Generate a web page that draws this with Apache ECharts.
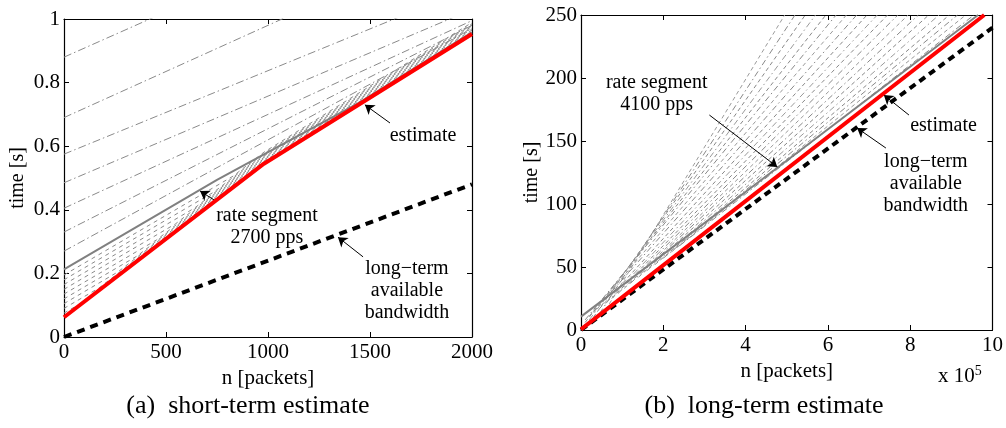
<!DOCTYPE html>
<html><head><meta charset="utf-8">
<script src="https://cdn.jsdelivr.net/npm/echarts@6/dist/echarts.min.js"></script>
<style>html,body{margin:0;padding:0;background:#fff}#c{width:1006px;height:428px}</style>
</head><body><div id="c"></div>
<script>
// ---------- (a) short-term estimate ----------
const leftXTicks = [0, 500, 1000, 1500, 2000];
const leftYTicks = [0, 0.2, 0.4, 0.6, 0.8, 1];
const leftRed = [[0, 0.062], [980, 0.545], [2000, 0.953]];
const leftGrey = [[0, 0.213], [750, 0.494], [1450, 0.738], [2000, 0.958]];
const leftBandwidth = [[0, 0], [2000, 0.48]];
const leftDashDotStart = [0.88, 0.69, 0.575, 0.485, 0.405, 0.33, 0.27];
const leftDashDotEnd = [1.45, 1.27, 1.1, 1.03, 0.995, 0.98, 0.97];
const leftDashed = [
  [[0, 0.075], [77, 0.104], [980, 0.549], [2000, 0.957]],
  [[0, 0.09], [171, 0.154], [980, 0.553], [2000, 0.961]],
  [[0, 0.105], [265, 0.205], [980, 0.557], [2000, 0.965]],
  [[0, 0.12], [359, 0.255], [980, 0.561], [2000, 0.969]],
  [[0, 0.135], [453, 0.305], [980, 0.565], [2000, 0.973]],
  [[0, 0.15], [547, 0.356], [980, 0.569], [2000, 0.977]],
  [[0, 0.165], [641, 0.406], [980, 0.573], [2000, 0.981]],
  [[0, 0.18], [735, 0.456], [980, 0.577], [2000, 0.985]],
  [[0, 0.195], [829, 0.506], [980, 0.581], [2000, 0.989]]
];
const leftNotes = ['estimate', 'rate segment\n2700 pps', 'long\u2212term\navailable\nbandwidth'];
const leftNotePos = [[1760, 0.632], [995, 0.347], [1681, 0.145]];
const leftArrows = [[1598, 0.673, 1475, 0.73], [750, 0.425, 667, 0.459], [1466, 0.252, 1343, 0.314]];

// ---------- (b) long-term estimate (x in units of 10^5 packets) ----------
const rightXTicks = [0, 2, 4, 6, 8, 10];
const rightYTicks = [0, 50, 100, 150, 200, 250];
const rightRed = [[0, 0.5], [9.8, 250]];
const rightGrey = [[0, 10.6], [4.7, 127], [9.65, 250]];
const rightBandwidth = [[0, 0], [10, 240]];
const fanStartX = [0.6, 0.45, 0.3, 0.2, 0.1, 0.1, 0.2, 0.3, 0.45, 0.6, 0.75, 0.9, 1.05, 1.2, 1.4, 1.6, 1.8, 2.0, 2.2, 2.4];
const fanStartY = [16, 13, 10, 8, 6, 8, 11, 14, 17, 21, 25, 29, 33, 37, 42, 47, 52, 57, 62, 67];
const fanEndX = [4.95, 5.2, 5.45, 5.7, 5.95, 6.2, 6.45, 6.7, 6.95, 7.2, 7.45, 7.7, 7.95, 8.2, 8.45, 8.7, 8.95, 9.15, 9.35, 9.55];
const fanEndY = 250;
const rightNotes = ['rate segment\n4100 pps', 'estimate', 'long\u2212term\navailable\nbandwidth'];
const rightNotePos = [[1.84, 187.7], [8.81, 161.9], [8.38, 116.3]];
const rightArrows = [[3.12, 170.6, 4.77, 129.4], [7.97, 170.6, 7.36, 186.5], [7.41, 144.4, 6.71, 160.3]];

const FONT = 'Liberation Serif';

function xAx(grid, ticks, pos, showLabel, name) {
  return {
    type: 'value', gridIndex: grid, position: pos,
    min: ticks[0], max: ticks[ticks.length - 1], interval: ticks[1] - ticks[0],
    axisLine: { show: true, onZero: false, lineStyle: { color: '#000', width: 1.2 } },
    axisTick: { show: true, inside: true, length: 5, lineStyle: { color: '#000' } },
    axisLabel: { show: showLabel, color: '#000', fontFamily: FONT, fontSize: 21, margin: 5,
                 formatter: v => String(v) },
    splitLine: { show: false },
    name: name || '', nameLocation: 'middle', nameGap: 21,
    nameTextStyle: { color: '#000', fontFamily: FONT, fontSize: 21 }
  };
}
function yAx(grid, ticks, pos, showLabel, name, gap) {
  return {
    type: 'value', gridIndex: grid, position: pos,
    min: ticks[0], max: ticks[ticks.length - 1], interval: ticks[1] - ticks[0],
    axisLine: { show: true, onZero: false, lineStyle: { color: '#000', width: 1.2 } },
    axisTick: { show: true, inside: true, length: 5, lineStyle: { color: '#000' } },
    axisLabel: { show: showLabel, color: '#000', fontFamily: FONT, fontSize: 21, margin: 4,
                 formatter: v => String(+v.toFixed(4)) },
    splitLine: { show: false },
    name: name || '', nameLocation: 'middle', nameGap: gap || 30, nameRotate: 90,
    nameTextStyle: { color: '#000', fontFamily: FONT, fontSize: 20 }
  };
}
function line(xi, yi, data, color, width, type, z) {
  return {
    type: 'line', xAxisIndex: xi, yAxisIndex: yi, data: data, symbol: 'none',
    showSymbol: false, clip: true, silent: true, z: z || 2,
    lineStyle: { color: color, width: width, type: type || 'solid' }
  };
}
function notesMark(notes, pos, lh) {
  return {
    symbol: 'rect', symbolSize: 1, itemStyle: { color: 'rgba(0,0,0,0)' }, silent: true,
    label: { show: true, position: 'inside', formatter: '{b}', color: '#000',
             fontFamily: FONT, fontSize: 20, lineHeight: lh, align: 'center' },
    data: notes.map((t, i) => ({ name: t, coord: pos[i] }))
  };
}
function arrowsMark(arrs) {
  return {
    symbol: ['none', 'arrow'], symbolSize: 9, silent: true,
    label: { show: false },
    lineStyle: { color: '#000', width: 1, type: 'solid' },
    emphasis: { disabled: true },
    data: arrs.map(a => [{ coord: [a[0], a[1]] }, { coord: [a[2], a[3]] }])
  };
}

const series = [];
// left panel
leftDashDotStart.forEach((b, i) => {
  series.push(line(0, 0, [[0, b], [2000, leftDashDotEnd[i]]], '#8a8a8a', 1, [8, 3, 1.5, 3]));
});
leftDashed.forEach(d => series.push(line(0, 0, d, '#8a8a8a', 1, [4, 4])));
series.push(line(0, 0, leftGrey, '#808080', 2, 'solid', 3));
series.push(line(0, 0, leftBandwidth, '#000', 4, [8, 6], 4));
const lr = line(0, 0, leftRed, '#ff0000', 4, 'solid', 5);
lr.markPoint = notesMark(leftNotes, leftNotePos, 22);
lr.markLine = arrowsMark(leftArrows);
series.push(lr);
// right panel
fanStartX.forEach((x, i) => {
  const t = i % 2 === 0 ? [4, 3] : [6, 3, 1.5, 3];
  const c = i % 3 === 0 ? '#9a9a9a' : '#888';
  series.push(line(2, 2, [[x, fanStartY[i]], [fanEndX[i], fanEndY]], c, 1, t));
});
series.push(line(2, 2, rightGrey, '#808080', 2, 'solid', 3));
series.push(line(2, 2, rightBandwidth, '#000', 4, [7, 5], 4));
const rr = line(2, 2, rightRed, '#ff0000', 4, 'solid', 5);
rr.markPoint = notesMark(rightNotes, rightNotePos, 22);
rr.markLine = arrowsMark(rightArrows);
series.push(rr);

const option = {
  animation: false,
  backgroundColor: '#fff',
  grid: [
    { left: 64, right: 534, top: 19, bottom: 91 },
    { left: 581, right: 12, top: 15, bottom: 98 }
  ],
  xAxis: [
    xAx(0, leftXTicks, 'bottom', true, 'n [packets]'),
    xAx(0, leftXTicks, 'top', false),
    xAx(1, rightXTicks, 'bottom', true, 'n [packets]'),
    xAx(1, rightXTicks, 'top', false)
  ],
  yAxis: [
    yAx(0, leftYTicks, 'left', true, 'time [s]', 36),
    yAx(0, leftYTicks, 'right', false),
    yAx(1, rightYTicks, 'left', true, 'time [s]', 31),
    yAx(1, rightYTicks, 'right', false)
  ],
  series: series,
  graphic: [
    { type: 'text', left: 938, top: 364, silent: true,
      style: { text: '{a|x 10}{b|5}', fontFamily: FONT, fill: '#000',
               rich: { a: { fontSize: 21, fontFamily: FONT, verticalAlign: 'bottom', lineHeight: 23 },
                       b: { fontSize: 14, fontFamily: FONT, verticalAlign: 'top', lineHeight: 23 } } } },
    { type: 'text', x: 248, y: 406, silent: true,
      style: { text: '(a)  short-term estimate', fontFamily: FONT, fontSize: 26, fill: '#000',
               align: 'center', verticalAlign: 'middle' } },
    { type: 'text', x: 764, y: 406, silent: true,
      style: { text: '(b)  long-term estimate', fontFamily: FONT, fontSize: 26, fill: '#000',
               align: 'center', verticalAlign: 'middle' } }
  ]
};
const chart = echarts.init(document.getElementById('c'), null, { renderer: 'canvas' });
chart.setOption(option);
</script></body></html>
